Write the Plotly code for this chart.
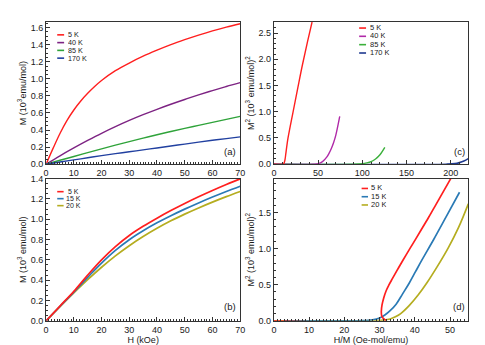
import plotly.graph_objects as go

# ---------------- data ----------------
# panel (a): M (10^3 emu/mol) vs H (kOe)
H_a_5K = [0, 2.5, 5, 7.5, 10, 12.5, 15, 17.5, 20, 25, 30, 35, 40, 45, 50, 55, 60, 65, 70]
M_a_5K = [0, 0.185, 0.36, 0.51, 0.635, 0.74, 0.83, 0.91, 0.98, 1.095, 1.185, 1.265, 1.335, 1.40, 1.458, 1.512, 1.562, 1.606, 1.645]
H_a = [0, 5, 10, 15, 20, 25, 30, 35, 40, 45, 50, 55, 60, 65, 70]
M_a_40K = [0, 0.098, 0.19, 0.278, 0.362, 0.44, 0.513, 0.58, 0.643, 0.702, 0.758, 0.811, 0.862, 0.91, 0.955]
M_a_85K = [0, 0.046, 0.09, 0.135, 0.18, 0.223, 0.265, 0.305, 0.345, 0.383, 0.42, 0.455, 0.49, 0.525, 0.56]
M_a_170K = [0, 0.025, 0.05, 0.075, 0.10, 0.123, 0.145, 0.168, 0.19, 0.213, 0.235, 0.258, 0.28, 0.30, 0.32]

# panel (b): M (10^3 emu/mol) vs H (kOe)
H_b = [0, 5, 10, 15, 20, 25, 30, 35, 40, 45, 50, 55, 60, 65, 70]
M_b_5K = [0, 0.145, 0.29, 0.45, 0.60, 0.73, 0.84, 0.93, 1.01, 1.085, 1.155, 1.221, 1.283, 1.342, 1.397]
M_b_15K = [0, 0.142, 0.283, 0.428, 0.568, 0.693, 0.798, 0.886, 0.964, 1.034, 1.099, 1.16, 1.218, 1.273, 1.325]
M_b_20K = [0, 0.14, 0.275, 0.405, 0.527, 0.639, 0.739, 0.829, 0.91, 0.984, 1.05, 1.111, 1.168, 1.222, 1.273]

# panel (c): M^2 ((10^3 emu/mol)^2) vs H/M (Oe-mol/emu)
HM_c_5K = [0, 10.5, 11.5, 12.5, 13.5, 14.5, 16, 21.5, 27, 32.5, 38, 43.2]
M2_c_5K = [0, 0, 0.02, 0.08, 0.2, 0.33, 0.5, 0.98, 1.45, 1.91, 2.33, 2.71]
HM_c_40K = [0, 45, 50, 55, 60, 62.5, 65, 67.5, 70, 72, 74.5]
M2_c_40K = [0, 0, 0.01, 0.05, 0.14, 0.21, 0.3, 0.41, 0.55, 0.7, 0.91]
HM_c_85K = [0, 90, 100, 105, 110, 115, 120, 125.5]
M2_c_85K = [0, 0, 0.01, 0.025, 0.05, 0.1, 0.18, 0.32]
HM_c_170K = [0, 195, 205, 210, 215, 220]
M2_c_170K = [0, 0, 0.01, 0.03, 0.06, 0.105]

# panel (d): M^2 ((10^3 emu/mol)^2) vs H/M (Oe-mol/emu)
HM_d_5K = [0, 31.9, 31.1, 30.6, 30.5, 30.7, 31.2, 31.9, 32.7, 33.6, 35.4, 37.5, 39.6, 41.7, 43.9, 46.0, 48.1, 50.2]
M2_d_5K = [0, 0, 0.03, 0.07, 0.13, 0.22, 0.32, 0.42, 0.5, 0.58, 0.735, 0.91, 1.08, 1.25, 1.43, 1.61, 1.79, 1.97]
HM_d_15K = [3, 20, 25, 28, 30, 31.5, 33, 34.7, 36.5, 38.4, 40.2, 42, 45.4, 49, 52.7]
M2_d_15K = [0, 0, 0.003, 0.015, 0.04, 0.08, 0.14, 0.23, 0.37, 0.52, 0.68, 0.84, 1.13, 1.45, 1.78]
HM_d_20K = [0, 20, 28, 31, 33, 34.5, 36, 38.4, 41, 43.5, 46.5, 49.5, 52.4, 55.2]
M2_d_20K = [0, 0, 0.003, 0.01, 0.025, 0.055, 0.1, 0.21, 0.36, 0.53, 0.76, 1.01, 1.29, 1.62]

# ---------------- styling ----------------
W, Hh = 485, 345
FONT = "Arial, Liberation Sans, Helvetica, sans-serif"
AX = "#333333"
TXT = "#1a1a1a"

RED = "#ff1f1f"
PURPLE = "#7d2383"
GREEN = "#2fa33a"
BLUE = "#2140a0"
MAGENTA = "#b02aa8"
GREEN_C = "#3bb03b"
NAVY = "#1f3a8f"
BLUE_B = "#2a7ab5"
OLIVE = "#b5ad20"


def px_x(p):
    return p / W


def px_y(p):
    return 1 - p / Hh


fig = go.Figure()


def add(x, y, color, name, xa, ya, width=1.4):
    fig.add_trace(go.Scatter(x=x, y=y, mode="lines", name=name,
                             line=dict(color=color, width=width, shape="spline", smoothing=1.0),
                             xaxis=xa, yaxis=ya, showlegend=False, hoverinfo="skip"))


add(H_a_5K, M_a_5K, RED, "5 K", "x", "y")
add(H_a, M_a_40K, PURPLE, "40 K", "x", "y")
add(H_a, M_a_85K, GREEN, "85 K", "x", "y")
add(H_a, M_a_170K, BLUE, "170 K", "x", "y")

add(HM_c_170K, M2_c_170K, NAVY, "170 K", "x2", "y2", 1.6)
add(HM_c_85K, M2_c_85K, GREEN_C, "85 K", "x2", "y2")
add(HM_c_40K, M2_c_40K, MAGENTA, "40 K", "x2", "y2")
add(HM_c_5K, M2_c_5K, RED, "5 K", "x2", "y2")

add(H_b, M_b_20K, OLIVE, "20 K", "x3", "y3", 1.7)
add(H_b, M_b_15K, BLUE_B, "15 K", "x3", "y3", 1.7)
add(H_b, M_b_5K, RED, "5 K", "x3", "y3", 1.7)

add(HM_d_20K, M2_d_20K, OLIVE, "20 K", "x4", "y4", 1.7)
add(HM_d_15K, M2_d_15K, BLUE_B, "15 K", "x4", "y4", 1.7)
add(HM_d_5K, M2_d_5K, RED, "5 K", "x4", "y4", 1.7)

xl = [px_x(35.7), px_x(233)]
xr = [px_x(267.3), px_x(465)]
yt = [px_y(155.7), px_y(9.3)]
yb = [px_y(317), px_y(170.5)]


def xaxis(dom, anchor, rng, dt, mdt, title=None):
    d = dict(domain=dom, anchor=anchor, range=rng, dtick=dt, tick0=0,
             showline=True, linecolor=AX, linewidth=1, mirror=True,
             ticks="inside", ticklen=4, tickcolor=AX, tickwidth=1,
             showgrid=False, zeroline=False,
             tickfont=dict(family=FONT, size=9, color=TXT),
             minor=dict(dtick=mdt, tick0=0, ticks="inside", ticklen=2, tickcolor=AX, showgrid=False))
    if title:
        d["title"] = dict(text=title, font=dict(family=FONT, size=9, color=TXT), standoff=3)
    return d


def yaxis(dom, anchor, rng, dt, mdt, fmt, title):
    return dict(domain=dom, anchor=anchor, range=rng, dtick=dt, tick0=0, tickformat=fmt,
                showline=True, linecolor=AX, linewidth=1, mirror=True,
                ticks="inside", ticklen=4, tickcolor=AX, tickwidth=1,
                showgrid=False, zeroline=False,
                tickfont=dict(family=FONT, size=9, color=TXT),
                minor=dict(dtick=mdt, tick0=0, ticks="inside", ticklen=2, tickcolor=AX, showgrid=False),
                title=dict(text=title, font=dict(family=FONT, size=9, color=TXT), standoff=2))


fig.update_layout(
    width=W, height=Hh, autosize=False,
    margin=dict(l=0, r=0, t=0, b=0),
    paper_bgcolor="white", plot_bgcolor="white",
    font=dict(family=FONT, size=9, color=TXT),
    xaxis=xaxis(xl, "y", [0, 70], 10, 1),
    yaxis=yaxis(yt, "x", [0, 1.665], 0.2, 0.05, ".1f", "M (10<sup>3</sup>emu/mol)"),
    xaxis2=xaxis(xr, "y2", [0, 220], 50, 10),
    yaxis2=yaxis(yt, "x2", [0, 2.71], 0.5, 0.1, ".1f", "M<sup>2</sup> (10<sup>3</sup> emu/mol)<sup>2</sup>"),
    xaxis3=xaxis(xl, "y3", [0, 70], 10, 1, "H (kOe)"),
    yaxis3=yaxis(yb, "x3", [0, 1.40], 0.2, 0.05, ".1f", "M (10<sup>3</sup> emu/mol)"),
    xaxis4=xaxis(xr, "y4", [0, 55.2], 10, 1, "H/M (Oe-mol/emu)"),
    yaxis4=yaxis(yb, "x4", [0, 1.97], 0.5, 0.1, ".1f", "M<sup>2</sup> (10<sup>3</sup> emu/mol)<sup>2</sup>"),
)

# legends (small line samples + labels)
shapes = []
annotations = []


def legend(entries, x0, x1, xt, ys, size):
    for (label, color), yy in zip(entries, ys):
        shapes.append(dict(type="line", xref="paper", yref="paper",
                           x0=px_x(x0), x1=px_x(x1), y0=px_y(yy), y1=px_y(yy),
                           line=dict(color=color, width=1.6)))
        annotations.append(dict(xref="paper", yref="paper", x=px_x(xt), y=px_y(yy),
                                xanchor="left", yanchor="middle", showarrow=False,
                                height=size, borderpad=0, valign="middle",
                                text=label, font=dict(family=FONT, size=size, color=TXT)))


legend([("5 K", RED), ("40 K", PURPLE), ("85 K", GREEN), ("170 K", BLUE)],
       47, 54, 56.5, [22.5, 30.5, 38.5, 46.5], 7.2)
legend([("5 K", RED), ("40 K", MAGENTA), ("85 K", GREEN_C), ("170 K", NAVY)],
       354, 361, 364.5, [15.5, 24, 32.6, 41.2], 7.5)
legend([(" 5 K", RED), ("15 K", BLUE_B), ("20 K", OLIVE)],
       47, 53.5, 55, [184, 191.2, 198.4], 7)
legend([("5 K", RED), ("15 K", BLUE_B), ("20 K", OLIVE)],
       356.5, 363, 365.5, [180.7, 189.2, 197.7], 7.5)

for lab, x, y in [("(a)", 223, 143), ("(c)", 456, 143), ("(b)", 223, 302), ("(d)", 456, 302)]:
    annotations.append(dict(xref="paper", yref="paper", x=px_x(x), y=px_y(y),
                            xanchor="center", yanchor="middle", showarrow=False,
                            text=lab, font=dict(family=FONT, size=9.5, color=TXT)))

fig.update_layout(shapes=shapes, annotations=annotations)

fig.write_html("out.html")
